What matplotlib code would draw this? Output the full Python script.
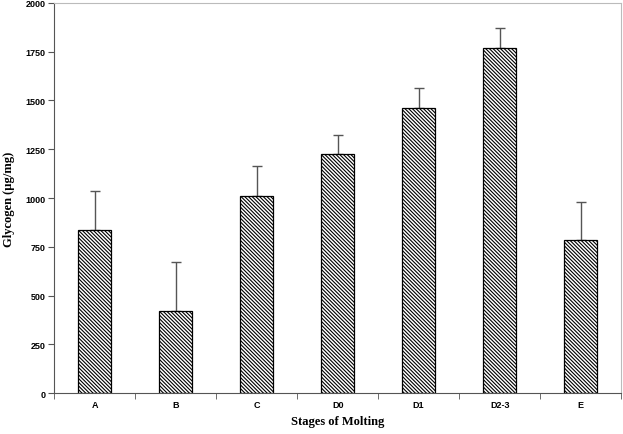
import numpy as np
import matplotlib
matplotlib.use("Agg")
import matplotlib.pyplot as plt

stages = ["A", "B", "C", "D0", "D1", "D2-3", "E"]
glycogen = [836, 420, 1010, 1226, 1460, 1769, 785]
sd = [200, 252, 152, 98, 102, 102, 197]

plt.rcParams['hatch.linewidth'] = 0.8

fig = plt.figure(figsize=(6.23, 4.35), dpi=100)
ax = fig.add_axes([0.087, 0.094, 0.91, 0.897])

x = np.arange(len(stages))
ax.bar(x, glycogen, width=0.41, color='white', edgecolor='black', hatch='\\' * 9,
       linewidth=0.9, zorder=2)
ax.errorbar(x, glycogen, yerr=[np.zeros(len(sd)), sd], fmt='none', ecolor='#555555',
            elinewidth=1.0, capsize=3.5, capthick=1.0, zorder=1)

ax.set_xlim(-0.5, len(stages) - 0.5)
ax.set_ylim(0, 2000)
ax.set_yticks(np.arange(0, 2001, 250))
ax.set_yticklabels([str(v) for v in range(0, 2001, 250)], fontsize=6.5,
                   fontfamily='Liberation Sans', fontweight='bold')
ax.set_xticks(x)
ax.set_xticklabels(stages, fontsize=6.5, fontfamily='Liberation Sans', fontweight='bold')
ax.set_xticks(np.arange(-0.5, len(stages)), minor=True)
ax.tick_params(axis='x', which='major', length=0, pad=5)
ax.tick_params(axis='x', which='minor', length=4, color='#555555')
ax.tick_params(axis='y', length=4, color='#555555', pad=2)

for side in ['left', 'bottom']:
    ax.spines[side].set_color('#555555')
for side in ['top', 'right']:
    ax.spines[side].set_color('#bbbbbb')

ax.set_ylabel("Glycogen (µg/mg)", fontsize=9, fontfamily='Liberation Serif',
              fontweight='bold', labelpad=8)
ax.set_xlabel("Stages of Molting", fontsize=9, fontfamily='Liberation Serif',
              fontweight='bold', labelpad=4)

fig.savefig("out.png", dpi=100)
